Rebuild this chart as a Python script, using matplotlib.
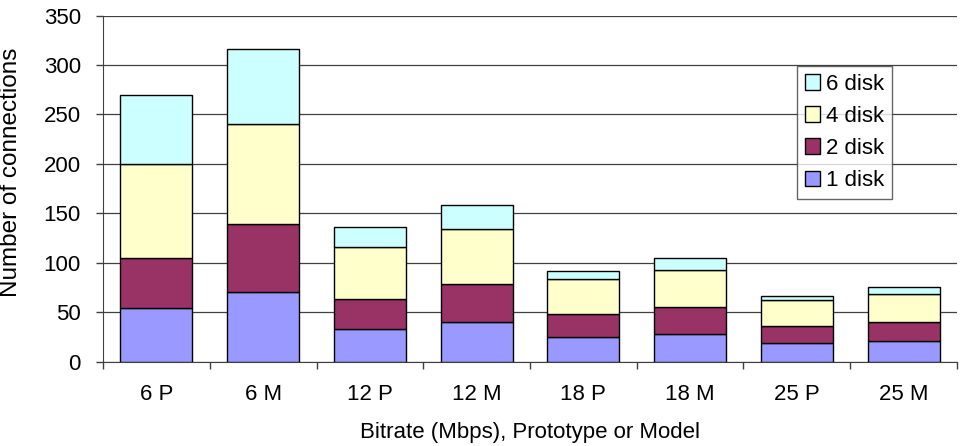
import matplotlib
matplotlib.use("Agg")
import matplotlib.pyplot as plt
import numpy as np

plt.rcParams['font.family'] = ['Liberation Sans', 'DejaVu Sans']

categories = ["6 P", "6 M", "12 P", "12 M", "18 P", "18 M", "25 P", "25 M"]
disk1 = [54, 70, 33, 40, 25, 28, 19, 21]
disk2 = [51, 69, 30, 39, 23, 27, 17, 19]
disk4 = [95, 101, 53, 55, 36, 38, 26, 28]
disk6 = [70, 76, 20, 24, 8, 12, 4, 8]
series_names = ["1 disk", "2 disk", "4 disk", "6 disk"]
colors = ["#9999FF", "#993366", "#FFFFCC", "#CCFFFF"]

fig = plt.figure(figsize=(9.64, 4.46), dpi=100)
ax = fig.add_axes([103/964, 1 - 361.7/446, (957-103)/964, (361.7-15.5)/446])

x = np.arange(len(categories))
bottom = np.zeros(len(categories))
handles = []
for vals, name, c in zip([disk1, disk2, disk4, disk6], series_names, colors):
    b = ax.bar(x, vals, width=0.675, bottom=bottom, color=c, edgecolor="black",
               linewidth=1.0, label=name, zorder=3)
    handles.append(b)
    bottom += np.array(vals)

ax.set_xlim(-0.5, len(categories) - 0.5)
ax.set_ylim(0, 350)
ax.set_yticks(np.arange(0, 351, 50))
ax.yaxis.grid(True, color="#404040", linewidth=0.9, zorder=0)
ax.set_axisbelow(True)

for s in ["top", "right"]:
    ax.spines[s].set_visible(False)
ax.spines["left"].set_color("#404040")
ax.spines["bottom"].set_color("#404040")

# category labels centred on bars, tick marks on category boundaries
ax.set_xticks(x)
ax.set_xticklabels(categories, fontsize=16)
ax.tick_params(axis="x", which="major", length=0, pad=16)
ax.set_xticks(np.arange(-0.5, len(categories), 1.0), minor=True)
ax.tick_params(axis="x", which="minor", length=5, width=1, color="#404040", direction="out")
ax.tick_params(axis="y", length=5, width=1, color="#404040", labelsize=16, pad=11)

ax.set_ylabel("Number of connections", fontsize=17.5)
ax.yaxis.set_label_coords(-(103 - 22) / 854, (361.7 - 172) / 346.2)
ax.set_xlabel("Bitrate (Mbps), Prototype or Model", fontsize=16, labelpad=12)

leg = ax.legend(handles[::-1], series_names[::-1], loc="upper left",
                bbox_to_anchor=((797-103)/854, 1 - (66-15.5)/346.2),
                fontsize=16, frameon=True, fancybox=False, shadow=False,
                handlelength=0.7, handleheight=0.7, handletextpad=0.25,
                borderpad=0.35, labelspacing=0.5, borderaxespad=0)
leg.get_frame().set_edgecolor("#404040")
leg.get_frame().set_linewidth(1.0)
for p in leg.get_patches():
    p.set_linewidth(1.0)

fig.savefig("out.png", dpi=100)
